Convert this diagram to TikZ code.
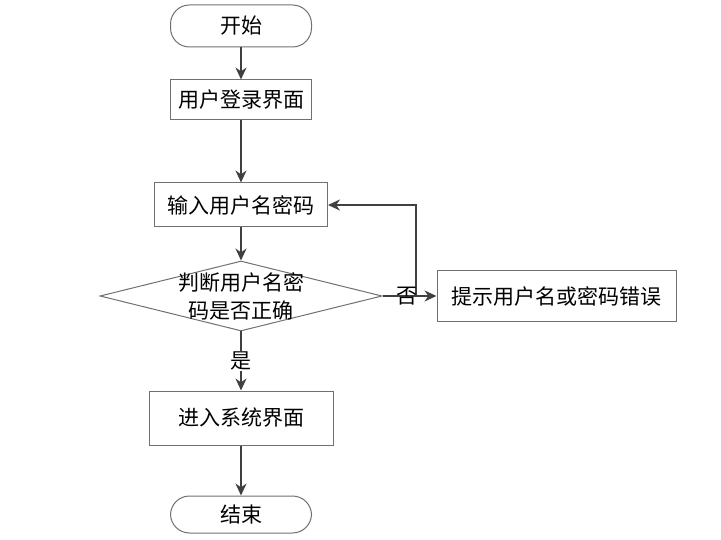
\documentclass[tikz,border=0pt]{standalone}
\usepackage{fontspec}
\newfontfamily\cjk{Noto Sans CJK SC}
\usetikzlibrary{arrows.meta,positioning,shapes.geometric}
\definecolor{boxgray}{HTML}{707070}
\definecolor{linegray}{HTML}{404040}
\tikzset{
    %Define standard arrow tip
    >={Stealth[length=12pt,width=11pt]},
    %Define style for text
    cjktext/.style={font=\cjk\fontsize{21}{28}\selectfont, text=black},
    %Define style for start and end
    term/.style={rectangle, rounded corners=19pt, draw=boxgray, line width=1pt, minimum width=141pt, cjktext},
    %Define style for process box
    proc/.style={rectangle, draw=boxgray, line width=1pt, cjktext},
    %Define style for decision
    decide/.style={diamond, draw=boxgray, line width=1pt, inner sep=0pt, minimum width=282pt, minimum height=70pt},
    %Define style for connector
    flow/.style={->, draw=linegray, line width=2pt},
    tag/.style={cjktext, inner sep=1pt},
}
\begin{document}
\begin{tikzpicture}[x=1pt, y=-1pt]
    \useasboundingbox (0,0) rectangle (721,540);
    	\node[term, minimum height=42pt](start) at (241,26){开始};
    	\node[proc, minimum width=141pt, minimum height=40pt, below=32pt of start](login){用户登录界面};
    	\node[proc, minimum width=173pt, minimum height=44pt, below=62pt of login](input){输入用户名密码};
    	\node[decide, below=33pt of input, label={[cjktext, align=center]center:判断用户名密\\码是否正确}](check){};
    	\node[proc, minimum width=239pt, minimum height=51pt, right=54pt of check](hint){提示用户名或密码错误};
    	\node[proc, minimum width=184pt, minimum height=54pt, below=59pt of check](enter){进入系统界面};
    	\node[term, minimum height=37pt, below=50pt of enter](stop){结束};
    	\coordinate[right=33pt of check.east](back);
    
        \path(start) edge [flow] (login);
        \path(login) edge [flow] (input);
        \path(input) edge [flow] (check);
        \draw[flow] (back) |- (input.east);
        \draw[flow] (check.east) -- node[tag, pos=0.45]{否} (hint.west);
        \draw[flow] (check.south) -- node[tag, fill=white]{是} (enter.north);
    	\path(enter) edge [flow] (stop);
    \end{tikzpicture}
\end{document}
